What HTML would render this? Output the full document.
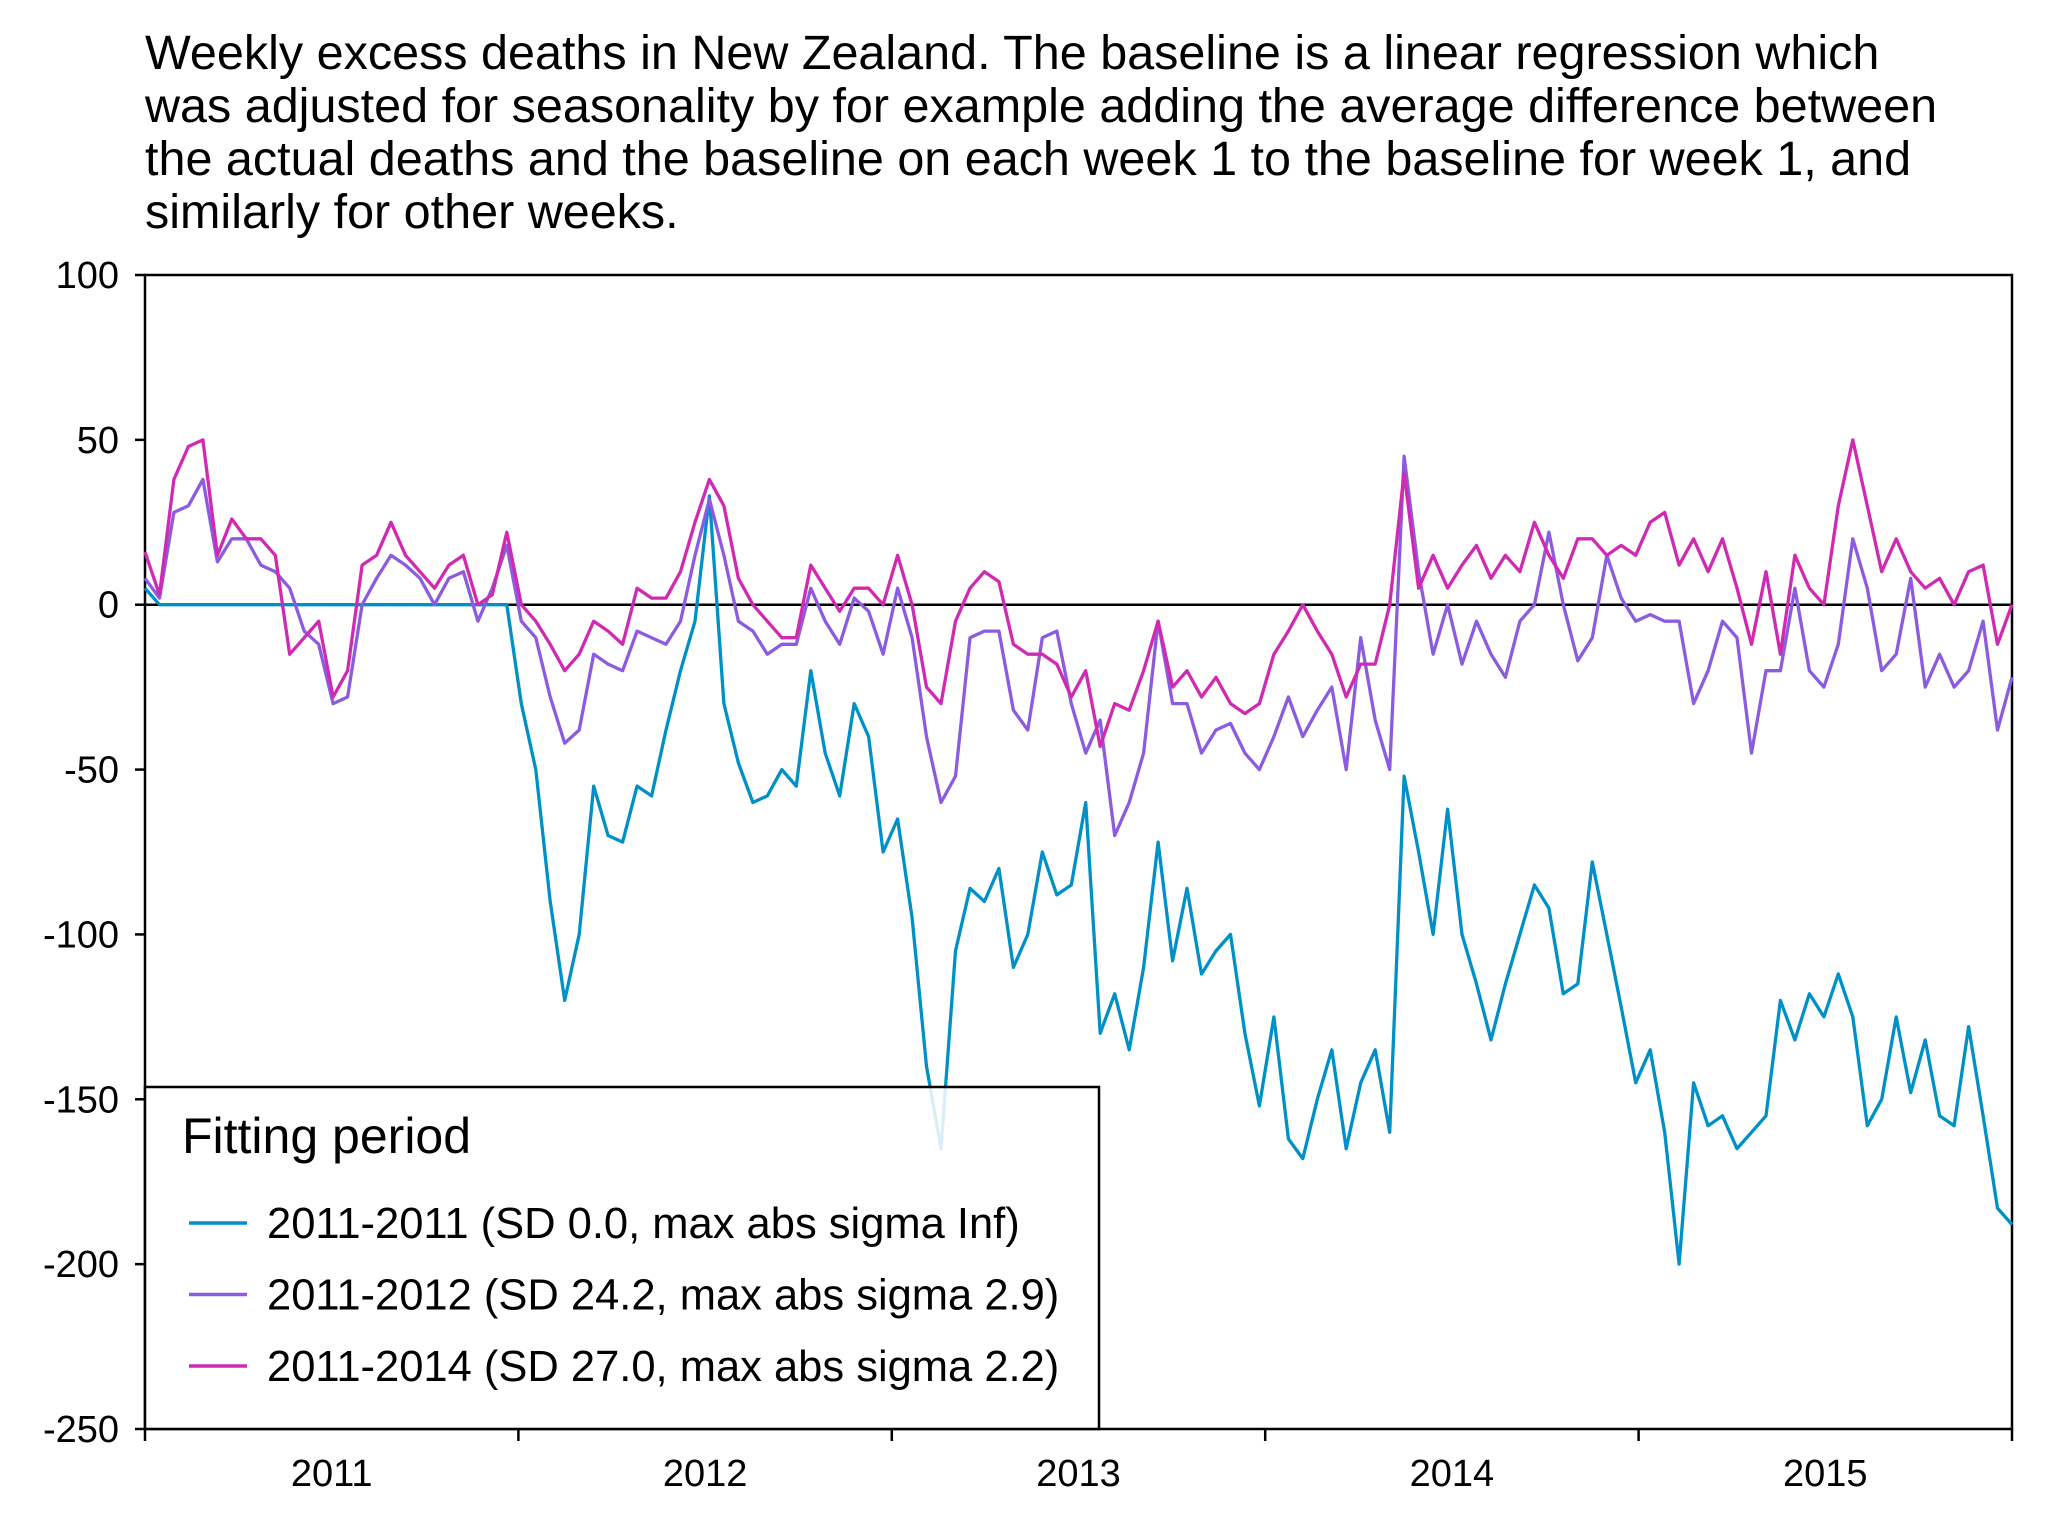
<!DOCTYPE html>
<html><head><meta charset="utf-8"><style>
html,body{margin:0;padding:0;background:#fff;}
svg{display:block;font-family:"Liberation Sans",sans-serif;}
</style></head><body>
<svg id="chart" width="2070" height="1530" viewBox="0 0 2070 1530" xmlns="http://www.w3.org/2000/svg">
<g font-size="48.5" fill="#000">
<text x="145" y="69">Weekly excess deaths in New Zealand. The baseline is a linear regression which</text>
<text x="145" y="122">was adjusted for seasonality by for example adding the average difference between</text>
<text x="145" y="175">the actual deaths and the baseline on each week 1 to the baseline for week 1, and</text>
<text x="145" y="228">similarly for other weeks.</text>
</g>
<g id="axes"></g>
<g id="series"></g>
<g id="legend"></g>
</svg>
<script>
const yTicks=[100,50,0,-50,-100,-150,-200,-250];
const yearLabels=['2011','2012','2013','2014','2015'];
const s2011_2011=[5,0,0,0,0,0,0,0,0,0,0,0,0,0,0,0,0,0,0,0,0,0,0,0,0,0,-30,-50,-90,-120,-100,-55,-70,-72,-55,-58,-38,-20,-5,33,-30,-48,-60,-58,-50,-55,-20,-45,-58,-30,-40,-75,-65,-95,-140,-165,-105,-86,-90,-80,-110,-100,-75,-88,-85,-60,-130,-118,-135,-110,-72,-108,-86,-112,-105,-100,-130,-152,-125,-162,-168,-150,-135,-165,-145,-135,-160,-52,-75,-100,-62,-100,-115,-132,-115,-100,-85,-92,-118,-115,-78,-100,-122,-145,-135,-160,-200,-145,-158,-155,-165,-160,-155,-120,-132,-118,-125,-112,-125,-158,-150,-125,-148,-132,-155,-158,-128,-155,-183,-188];
const s2011_2012=[8,2,28,30,38,13,20,20,12,10,5,-8,-12,-30,-28,0,8,15,12,8,0,8,10,-5,5,18,-5,-10,-28,-42,-38,-15,-18,-20,-8,-10,-12,-5,15,32,15,-5,-8,-15,-12,-12,5,-5,-12,2,-2,-15,5,-10,-40,-60,-52,-10,-8,-8,-32,-38,-10,-8,-30,-45,-35,-70,-60,-45,-5,-30,-30,-45,-38,-36,-45,-50,-40,-28,-40,-32,-25,-50,-10,-35,-50,45,10,-15,0,-18,-5,-15,-22,-5,0,22,0,-17,-10,15,2,-5,-3,-5,-5,-30,-20,-5,-10,-45,-20,-20,5,-20,-25,-12,20,5,-20,-15,8,-25,-15,-25,-20,-5,-38,-22];
const s2011_2014=[16,3,38,48,50,15,26,20,20,15,-15,-10,-5,-28,-20,12,15,25,15,10,5,12,15,0,3,22,0,-5,-12,-20,-15,-5,-8,-12,5,2,2,10,25,38,30,8,0,-5,-10,-10,12,5,-2,5,5,0,15,0,-25,-30,-5,5,10,7,-12,-15,-15,-18,-28,-20,-43,-30,-32,-20,-5,-25,-20,-28,-22,-30,-33,-30,-15,-8,0,-8,-15,-28,-18,-18,0,40,5,15,5,12,18,8,15,10,25,15,8,20,20,15,18,15,25,28,12,20,10,20,5,-12,10,-15,15,5,0,30,50,30,10,20,10,5,8,0,10,12,-12,0];
const seriesNames=['2011-2011 (SD 0.0, max abs sigma Inf)','2011-2012 (SD 24.2, max abs sigma 2.9)','2011-2014 (SD 27.0, max abs sigma 2.2)'];
const colors=['#0090c8','#8c5ce0','#d02ab2'];

const L=145,R=2012,T=275,B=1429,NS='http://www.w3.org/2000/svg';
const yS=v=>T+(100-v)/350*(B-T);
const xS=(i,n)=>L+i/(n-1)*(R-L);
function mk(tag,attrs,parent){const e=document.createElementNS(NS,tag);for(const k in attrs)e.setAttribute(k,attrs[k]);parent.appendChild(e);return e;}
const axes=document.getElementById('axes');
yTicks.forEach(v=>{
  const t=mk('line',{x1:L-10,x2:L,y1:yS(v),y2:yS(v),stroke:'#000','stroke-width':2.5},axes);
  
  
  const lb=mk('text',{x:119,y:yS(v)+13,'text-anchor':'end','font-size':38},axes);
  lb.textContent=v;
  
  
});
const yw=(R-L)/yearLabels.length;
for(let i=0;i<=yearLabels.length;i++){
  const t=mk('line',{x1:L+i*yw,x2:L+i*yw,y1:B,y2:B+12,stroke:'#000','stroke-width':2.5},axes);
  
  
}
yearLabels.forEach((y,i)=>{
  const lb=mk('text',{x:L+(i+0.5)*yw,y:1486,'text-anchor':'middle','font-size':38},axes);
  lb.textContent=y;
  
  
});
const frame=mk('rect',{x:L,y:T,width:R-L,height:B-T,fill:'none',stroke:'#000','stroke-width':2.5},axes);


const zl=mk('line',{x1:L,x2:R,y1:yS(0),y2:yS(0),stroke:'#000','stroke-width':2.5},axes);



const sg=document.getElementById('series');
[s2011_2011,s2011_2012,s2011_2014].forEach((d,k)=>{
  const p=mk('polyline',{points:d.map((v,i)=>xS(i,d.length).toFixed(1)+','+yS(v).toFixed(1)).join(' '),fill:'none',stroke:colors[k],'stroke-width':3.3,'stroke-linejoin':'round'},sg);
  
  
});

const lg=document.getElementById('legend');
const box=mk('rect',{x:L,y:1087,width:954,height:B-1087,fill:'rgba(255,255,255,0.85)',stroke:'#000','stroke-width':2.5},lg);


const lt=mk('text',{x:182,y:1153,'font-size':50},lg);
lt.textContent='Fitting period';


seriesNames.forEach((n,k)=>{
  const y=1223+k*71.5;
  const ln=mk('line',{x1:189,x2:247,y1:y,y2:y,stroke:colors[k],'stroke-width':3.5},lg);
  
  
  const tx=mk('text',{x:267,y:y+15,'font-size':43.5},lg);
  tx.textContent=n;
  
  
});
</script>
</body></html>
